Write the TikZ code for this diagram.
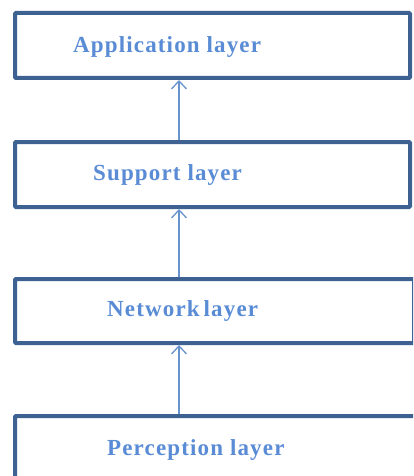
\documentclass[tikz,border=0pt]{standalone}
\usepackage{fontspec}
\setmainfont{Liberation Serif}
\newfontfamily\layerfont[LetterSpace=5]{Liberation Serif}
\usetikzlibrary{arrows.meta}

\definecolor{boxblue}{RGB}{61,98,145}
\definecolor{textblue}{RGB}{90,140,214}
\definecolor{linkblue}{RGB}{104,148,206}

\tikzset{
  layerbox/.style={draw=boxblue, line width=4pt, rounded corners=1pt,
    rectangle, inner sep=0pt, fill=white},
  layertext/.style={anchor=base west, inner sep=0pt, text=textblue,
    font=\layerfont\bfseries\fontsize{23}{27}\selectfont},
  link/.style={draw=linkblue, line width=1.3pt,
    -{Straight Barb[length=8pt,width=15pt,line width=1.3pt]}}
}

\begin{document}
\begin{tikzpicture}[x=1pt,y=-1pt]
  \useasboundingbox[fill=white] (0,0) rectangle (413,476);
  \clip (0,0) rectangle (413,476);

  % the four stacked layers
  \node[layerbox, minimum width=395pt, minimum height=65pt] (app) at (212.5,45.5) {};
  \node[layerbox, minimum width=395pt, minimum height=65pt] (sup) at (212.5,174.5) {};
  \node[layerbox, minimum width=399pt, minimum height=64pt] (net) at (214.5,311) {};
  \node[layerbox, minimum width=415pt, minimum height=74pt] (per) at (222.5,453) {};

  % layer names
  \node[layertext] (appt) at (73,53)  {Application layer};
  \node[layertext] (supt) at (93,180) {Support layer};
  \node[layertext] (nett) at (107,316.5) {Network\hspace{4pt}layer};
  \node[layertext] (pert) at (107,455) {Perception layer};

  % upward links between neighbouring layers
  \coordinate (ax) at (179,0);
  \draw[link] (sup.north -| ax) -- (app.south -| ax);
  \draw[link] (net.north -| ax) -- (sup.south -| ax);
  \draw[link] (per.north -| ax) -- (net.south -| ax);
\end{tikzpicture}
\end{document}
